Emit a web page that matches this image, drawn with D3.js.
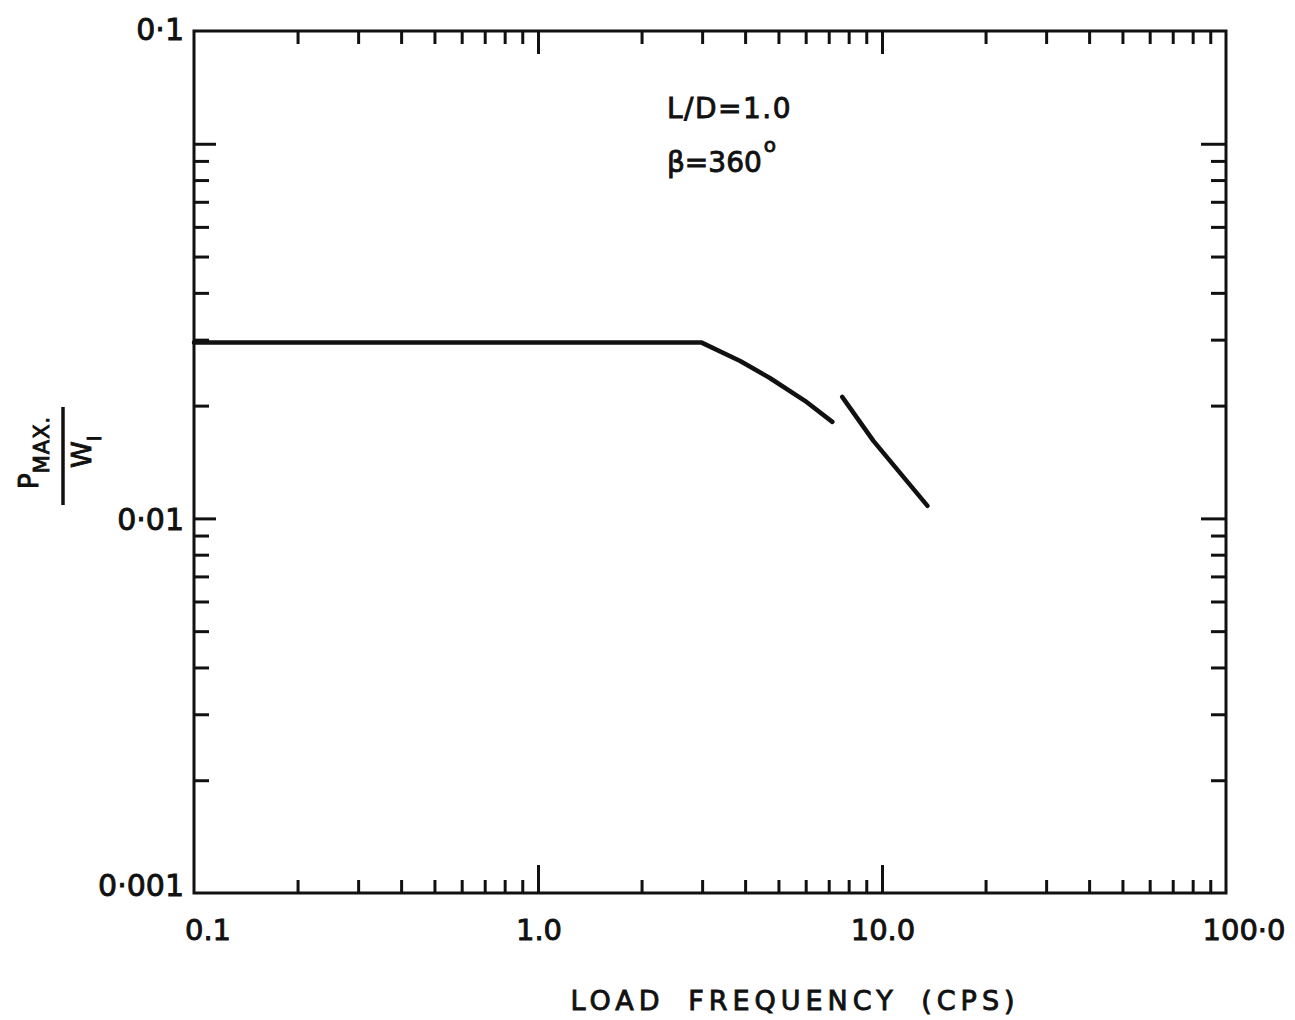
<!DOCTYPE html>
<html>
<head>
<meta charset="utf-8">
<script src="https://cdn.jsdelivr.net/npm/d3@7"></script>
<style>
  html, body { margin: 0; padding: 0; background: #fff; }
  svg { display: block; }
  text { font-family: "DejaVu Sans", sans-serif; fill: #111; stroke: #111; stroke-width: 0.9; }
</style>
</head>
<body>
<svg id="chart" width="1295" height="1020"></svg>
<script>
// ---- data ----
const segment1Freq  = [0.1, 2.98, 3.87, 4.72, 5.97, 7.17];
const segment1Value = [0.0295, 0.0295, 0.0263, 0.0237, 0.0206, 0.0181];
const segment2Freq  = [7.66, 9.44, 13.56];
const segment2Value = [0.0211, 0.0161, 0.0108];

const xMajorTicks = [1, 10];
const xMinorTicks = [0.2,0.3,0.4,0.5,0.6,0.7,0.8,0.9, 2,3,4,5,6,7,8,9, 20,30,40,50,60,70,80,90];
const yMajorTicks = [0.01, 0.1];
const yMinorTicks = [0.002,0.003,0.004,0.005,0.006,0.007,0.008,0.009, 0.02,0.03,0.04,0.05,0.06,0.07,0.08,0.09];

const xLabelValues = [0.1, 1, 10, 100];
const xLabelTexts  = ["0.1", "1.0", "10.0", "100·0"];
const yLabelValues = [0.001, 0.01, 0.2];
const yLabelTexts  = ["0·001", "0·01", "0·1"];

const annotation1 = "L/D=1.0";
const annotation2 = "β=360";
const xTitle = "LOAD FREQUENCY (CPS)";

// ---- layout ----
const svg = d3.select("#chart");
const L = 194, R = 1226, T = 31, B = 893;
const x = d3.scaleLog().domain([0.1, 100]).range([L, R]);
const y = d3.scaleLog().domain([0.001, 0.2]).range([B, T]);
const ink = "#111";

function tickAxis(axis, transform, size, values) {
  const g = svg.append("g").attr("transform", transform)
    .call(axis.tickValues(values).tickSize(size).tickSizeOuter(0).tickFormat(""));
  g.select(".domain").remove();
  g.selectAll(".tick line").attr("stroke", ink).attr("stroke-width", 3);
  return g;
}
// bottom ticks (pointing up)
tickAxis(d3.axisBottom(x), `translate(0,${B})`, -13, xMinorTicks);
tickAxis(d3.axisBottom(x), `translate(0,${B})`, -28, xMajorTicks);
// top ticks (pointing down)
tickAxis(d3.axisTop(x), `translate(0,${T})`, -13, xMinorTicks);
tickAxis(d3.axisTop(x), `translate(0,${T})`, -23, xMajorTicks);
// left ticks (pointing right)
tickAxis(d3.axisLeft(y), `translate(${L},0)`, -15, yMinorTicks);
tickAxis(d3.axisLeft(y), `translate(${L},0)`, -22, yMajorTicks);
// right ticks (pointing left)
tickAxis(d3.axisRight(y), `translate(${R},0)`, -15, yMinorTicks);
tickAxis(d3.axisRight(y), `translate(${R},0)`, -25, yMajorTicks);

// frame
svg.append("rect").attr("x", L).attr("y", T).attr("width", R - L).attr("height", B - T)
  .attr("fill", "none").attr("stroke", ink).attr("stroke-width", 3);

// curves
const line = d3.line().x(d => x(d[0])).y(d => y(d[1]));
[[segment1Freq, segment1Value], [segment2Freq, segment2Value]].forEach(([f, v]) => {
  svg.append("path").datum(f.map((d, i) => [d, v[i]]))
    .attr("d", line).attr("fill", "none").attr("stroke", ink)
    .attr("stroke-width", 4.5).attr("stroke-linecap", "round").attr("stroke-linejoin", "round");
});

// x tick labels
const xLabelShift = [14, 1, 1, 18];
svg.selectAll(".xl").data(xLabelValues).enter().append("text")
  .attr("x", (d, i) => x(d) + xLabelShift[i]).attr("y", 940)
  .attr("text-anchor", "middle").attr("font-size", 29)
  .text((d, i) => xLabelTexts[i]);

// y tick labels
const yLabelShift = [3, 12, 9];
svg.selectAll(".yl").data(yLabelValues).enter().append("text")
  .attr("x", 184).attr("y", (d, i) => y(d) + yLabelShift[i])
  .attr("text-anchor", "end").attr("font-size", 30)
  .text((d, i) => yLabelTexts[i]);

// annotations
svg.append("text").attr("x", 667).attr("y", 118).attr("font-size", 28)
  .attr("letter-spacing", 1.5).text(annotation1);
const a2 = svg.append("text").attr("x", 667).attr("y", 172).attr("font-size", 28).text(annotation2);
a2.append("tspan").attr("dx", 2).attr("dy", -20).attr("font-size", 20).text("o");

// x axis title
svg.append("text").attr("x", 795).attr("y", 1010).attr("text-anchor", "middle")
  .attr("font-size", 27).attr("letter-spacing", 5).attr("word-spacing", 10).text(xTitle);

// y axis title (rotated fraction)
const yl = svg.append("g").attr("transform", "translate(62,455) rotate(-90)");
yl.append("line").attr("x1", -50).attr("x2", 48).attr("y1", 1).attr("y2", 1)
  .attr("stroke", ink).attr("stroke-width", 3.5);
const num = yl.append("text").attr("x", -34).attr("y", -24).attr("font-size", 26);
num.append("tspan").text("P");
num.append("tspan").attr("dy", 11).attr("font-size", 21).attr("letter-spacing", 1).text("MAX.");
const den = yl.append("text").attr("x", -13).attr("y", 29).attr("font-size", 27);
den.append("tspan").text("W");
den.append("tspan").attr("dy", 10).attr("font-size", 19).text("I");
</script>
</body>
</html>
